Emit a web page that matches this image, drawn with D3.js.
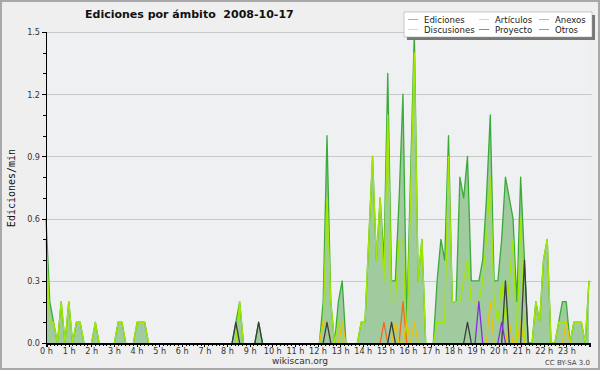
<!DOCTYPE html>
<html lang="es">
<head>
<meta charset="utf-8">
<title>Ediciones por ámbito</title>
<script src="https://d3js.org/d3.v7.min.js"></script>
<style>
  body { margin: 0; background: #fff; }
  .grid line { stroke: #c9c9c9; stroke-width: 1; shape-rendering: crispEdges; }
  .axis path, .axis line { stroke: #000; shape-rendering: crispEdges; }
  .axis text { font-family: "DejaVu Sans Condensed", "Liberation Sans", sans-serif; font-size: 9px; fill: #333; }
  .serie { fill: none; stroke-width: 1.3; stroke-linejoin: round; }
</style>
</head>
<body>
<div id="chart"></div>
<script>
// valores por franja de 10 minutos (ediciones/min), 144 franjas
var ediciones = [
  0.6,0.2,0.1,0,0.2,0,0.2,0,0.1,0.1,0,0,0,0.1,0,0,0,0,0,0.1,0.1,0,0,0,
  0.1,0.1,0.1,0,0,0,0,0,0,0,0,0,0,0,0,0,0,0,0,0,0,0,0,0,0,0,
  0.1,0.2,0,0,0,0,0.1,0,0,0,0,0,0,0,0,0,0,0,0,0,0,0,0,0.2,
  1.0,0.2,0,0.2,0.3,0,0,0,0,0.1,0.1,0.5,0.9,0.4,0.7,0.4,1.3,0.3,0.3,0.7,
  1.2,0.1,0.8,1.5,0.3,0.5,0,0,0,0.3,0.5,0.4,1.0,0.2,0.2,0.8,0.7,0.9,0.3,0.3,
  0.3,0.4,0.7,1.1,0.3,0.3,0.5,0.8,0.7,0.6,0.2,0.8,0.4,0,0,0.2,0.1,0.4,0.5,0,
  0,0.1,0.2,0.2,0,0.1,0.1,0.1,0,0.3
];
var articulos = [
  0.5,0.1,0.1,0,0.2,0,0.2,0,0.1,0.1,0,0,0,0.1,0,0,0,0,0,0.1,0.1,0,0,0,
  0.1,0.1,0.1,0,0,0,0,0,0,0,0,0,0,0,0,0,0,0,0,0,0,0,0,0,0,0,
  0,0.2,0,0,0,0,0,0,0,0,0,0,0,0,0,0,0,0,0,0,0,0,0,0.1,
  0.7,0.2,0,0.1,0,0,0,0,0,0.1,0.1,0.5,0.9,0.4,0.7,0.3,1.1,0.2,0.2,0.5,
  0.5,0,0.7,1.4,0.3,0.5,0,0,0,0.1,0.1,0.1,0.9,0.2,0.2,0.2,0.3,0.4,0.2,0.2,
  0.2,0.3,0.5,0.8,0.2,0.1,0.3,0.1,0.3,0.5,0,0.6,0,0,0,0.2,0.1,0.4,0.5,0,
  0,0.1,0.1,0.1,0,0.1,0.1,0.1,0,0.3
];
var discusiones = new Array(144).fill(0);
var anexos = new Array(144).fill(0);
var proyecto = new Array(144).fill(0);
var otros = new Array(144).fill(0);
// valores puntuales [franja, valor]
[[73,0.1],[74,0.1],[78,0.1],[92,0.1],[95,0.1],[97,0.1],[117,0.2],[122,0.1],[125,0.1],[137,0.1]]
  .forEach(function (d) { discusiones[d[0]] = d[1]; });
[[89,0.1],[94,0.2]].forEach(function (d) { anexos[d[0]] = d[1]; });
[[50,0.1],[56,0.1],[74,0.1],[91,0.1],[111,0.1],[121,0.3],[126,0.4]]
  .forEach(function (d) { proyecto[d[0]] = d[1]; });
[[114,0.2],[120,0.1]].forEach(function (d) { otros[d[0]] = d[1]; });

var yTicks = [0, 0.3, 0.6, 0.9, 1.2, 1.5];
var hourLabels = d3.range(24).map(function (h) { return h + " h"; });

var W = 600, H = 370;
var mLeft = 46, mRight = 589, mTop = 32, mBottom = 343;

var svg = d3.select("#chart").append("svg")
  .attr("width", W).attr("height", H)
  .style("display", "block");

// fondo y marco
svg.append("rect").attr("x", 1).attr("y", 1).attr("width", W - 2).attr("height", H - 2)
  .attr("fill", "#efefef").attr("stroke", "#a8a8a8").attr("stroke-width", 2);
svg.append("rect").attr("x", mLeft).attr("y", mTop).attr("width", mRight - mLeft).attr("height", mBottom - mTop)
  .attr("fill", "#eef0f2");

var x = d3.scaleLinear().domain([0, 143]).range([mLeft, mRight]);
var xh = d3.scaleLinear().domain([0, 24]).range([mLeft, mRight]);
var y = d3.scaleLinear().domain([0, 1.5]).range([mBottom, mTop]);

// rejilla
svg.append("g").attr("class", "grid")
  .attr("transform", "translate(" + mLeft + ",0)")
  .call(d3.axisRight(y).tickValues(yTicks.slice(1)).tickSize(mRight - mLeft + 3).tickFormat(""))
  .call(function (g) { g.select(".domain").remove(); });

// área total
var area = d3.area()
  .x(function (d, i) { return x(i); })
  .y0(y(0))
  .y1(function (d) { return y(d); });
svg.append("path").datum(ediciones)
  .attr("d", area).attr("fill", "#9fcb9f");

// no dibujar los tramos que quedan a cero
function lineFor(values) {
  return d3.line()
    .defined(function (d, i) {
      return d > 0 || values[i - 1] > 0 || values[i + 1] > 0;
    })
    .x(function (d, i) { return x(i); })
    .y(function (d) { return y(d); });
}

var series = [
  { name: "Ediciones", values: ediciones, color: "#3aaa3a" },
  { name: "Artículos", values: articulos, color: "#a2e800" },
  { name: "Anexos", values: anexos, color: "#f26a1b" },
  { name: "Discusiones", values: discusiones, color: "#f2c200" },
  { name: "Proyecto", values: proyecto, color: "#3c3c3c" },
  { name: "Otros", values: otros, color: "#8a2be2" }
];

series.forEach(function (s) {
  svg.append("path").datum(s.values)
    .attr("class", "serie")
    .attr("d", lineFor(s.values))
    .attr("stroke", s.color);
});

// ejes
var yAxis = d3.axisLeft(y).tickValues(yTicks).tickSize(4).tickPadding(2)
  .tickFormat(d3.format(".1f"));
svg.append("g").attr("class", "axis")
  .attr("transform", "translate(" + mLeft + ",0)")
  .call(yAxis);
svg.append("g").attr("class", "axis")
  .attr("transform", "translate(" + mLeft + ",0)")
  .call(d3.axisLeft(y).tickValues(d3.range(0, 1.51, 0.1)).tickSize(3).tickFormat(""));

var xAxis = d3.axisBottom(xh).tickValues(d3.range(24)).tickSize(4).tickPadding(1)
  .tickFormat(function (d) { return hourLabels[d]; });
svg.append("g").attr("class", "axis")
  .attr("transform", "translate(0," + mBottom + ")")
  .call(xAxis)
  .call(function (g) { g.select(".domain").attr("stroke-width", 2); });
svg.append("g").attr("class", "axis")
  .attr("transform", "translate(0," + mBottom + ")")
  .call(d3.axisBottom(xh).tickValues(d3.range(0, 24.01, 1 / 6)).tickSize(3).tickFormat(""))
  .call(function (g) { g.select(".domain").remove(); });

// título
svg.append("text")
  .attr("x", 85).attr("y", 18)
  .attr("font-family", "DejaVu Sans, sans-serif").attr("font-size", 11)
  .attr("font-weight", "bold").attr("fill", "#111")
  .attr("xml:space", "preserve")
  .text("Ediciones por ámbito  2008-10-17");

// etiqueta eje y
svg.append("text")
  .attr("transform", "translate(15,188) rotate(-90)")
  .attr("text-anchor", "middle")
  .attr("font-family", "DejaVu Sans Mono, monospace").attr("font-size", 10)
  .attr("fill", "#111")
  .text("Ediciones/min");

// pie
svg.append("text").attr("x", 300).attr("y", 364).attr("text-anchor", "middle")
  .attr("font-family", "DejaVu Sans, sans-serif").attr("font-size", 9).attr("fill", "#333")
  .text("wikiscan.org");
svg.append("text").attr("x", 590).attr("y", 365).attr("text-anchor", "end")
  .attr("font-family", "DejaVu Sans, sans-serif").attr("font-size", 7).attr("fill", "#444")
  .text("CC BY-SA 3.0");

// leyenda
var lg = svg.append("g");
lg.append("rect").attr("x", 407).attr("y", 15).attr("width", 188).attr("height", 25).attr("fill", "#777");
lg.append("rect").attr("x", 404).attr("y", 12).attr("width", 188).attr("height", 25)
  .attr("fill", "#fff").attr("stroke", "#999").attr("stroke-width", 0.5);
var legendOrder = ["Ediciones", "Artículos", "Anexos", "Discusiones", "Proyecto", "Otros"];
var colX = [408, 479, 539];
legendOrder.forEach(function (n, k) {
  var s = series.find(function (d) { return d.name === n; });
  var cx = colX[k % 3], cy = k < 3 ? 19.5 : 29.5;
  lg.append("line").attr("x1", cx).attr("x2", cx + 10).attr("y1", cy).attr("y2", cy)
    .attr("stroke", s.color).attr("stroke-width", 1).attr("opacity", 0.6);
  lg.append("text").attr("x", cx + 16).attr("y", cy + 3.5)
    .attr("font-family", "DejaVu Sans Condensed, Liberation Sans, sans-serif").attr("font-size", 9.5).attr("fill", "#222")
    .text(n);
});
</script>
</body>
</html>
